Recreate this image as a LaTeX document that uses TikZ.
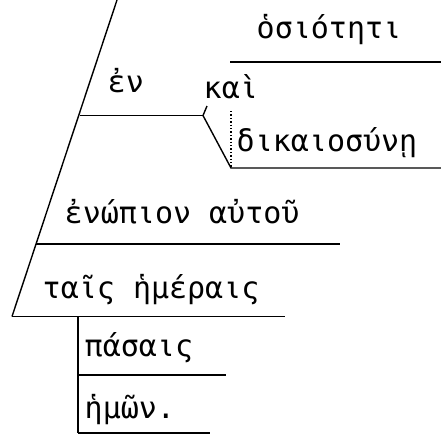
\documentclass[tikz,border=0pt]{standalone}
\usepackage{fontspec}
\newfontfamily\grfont{DejaVu Sans Mono}
\usetikzlibrary{positioning}

\begin{document}
\begin{tikzpicture}[x=1pt, y=-1pt, line width=1.4pt,
  every node/.style={font=\grfont\fontsize{30}{32}\selectfont, inner sep=0pt, anchor=base west}]
\useasboundingbox (0,0) rectangle (441,434);
% stamm und grundlinien
\coordinate (s0) at (117,0);
\coordinate (s1) at (80,115.5);
\coordinate (s2) at (36,244);
\coordinate (s3) at (12,316.5);
\coordinate (fork) at (203,115.5);
\coordinate (tick) at (207,106);
\coordinate (up0) at (230,62);
\coordinate (up1) at (441,62);
\coordinate (lo0) at (231,168);
\coordinate (lo1) at (441,168);
\coordinate (dot0) at (231,111);
\coordinate (e1) at (340,244);
\coordinate (e2) at (285,316.5);
\coordinate (v0) at (78,316.5);
\coordinate (v1) at (78,375);
\coordinate (v2) at (78,433);
\coordinate (p1) at (226,375);
\coordinate (p2) at (210,433);
\draw (s0) -- (s3);
\draw (s1) -- (fork);
\draw (fork) -- (tick);
\draw (up0) -- (up1);
\draw (fork) -- (lo0) -- (lo1);
\draw[dotted] (dot0) -- (lo0);
\draw (s2) -- (e1);
\draw (s3) -- (e2);
\draw (v0) -- (v2);
\draw (v1) -- (p1);
\draw (v2) -- (p2);
% woerter
\node (osiot) at (256,38)  {ὁσιότητι};
\node (en)    at (107,92)  {ἐν};
\node (kai)   at (203,98)  {καὶ};
\node (dikai) at (236,151) {δικαιοσύνῃ};
\node (enop)  at (64,223)  {ἐνώπιον αὐτοῦ};
\node (hmer)  at (42,298)  {ταῖς ἡμέραις};
\node (pas)   at (84,356)  {πάσαις};
\node (hmon)  at (84,418)  {ἡμῶν.};
\end{tikzpicture}
\end{document}
